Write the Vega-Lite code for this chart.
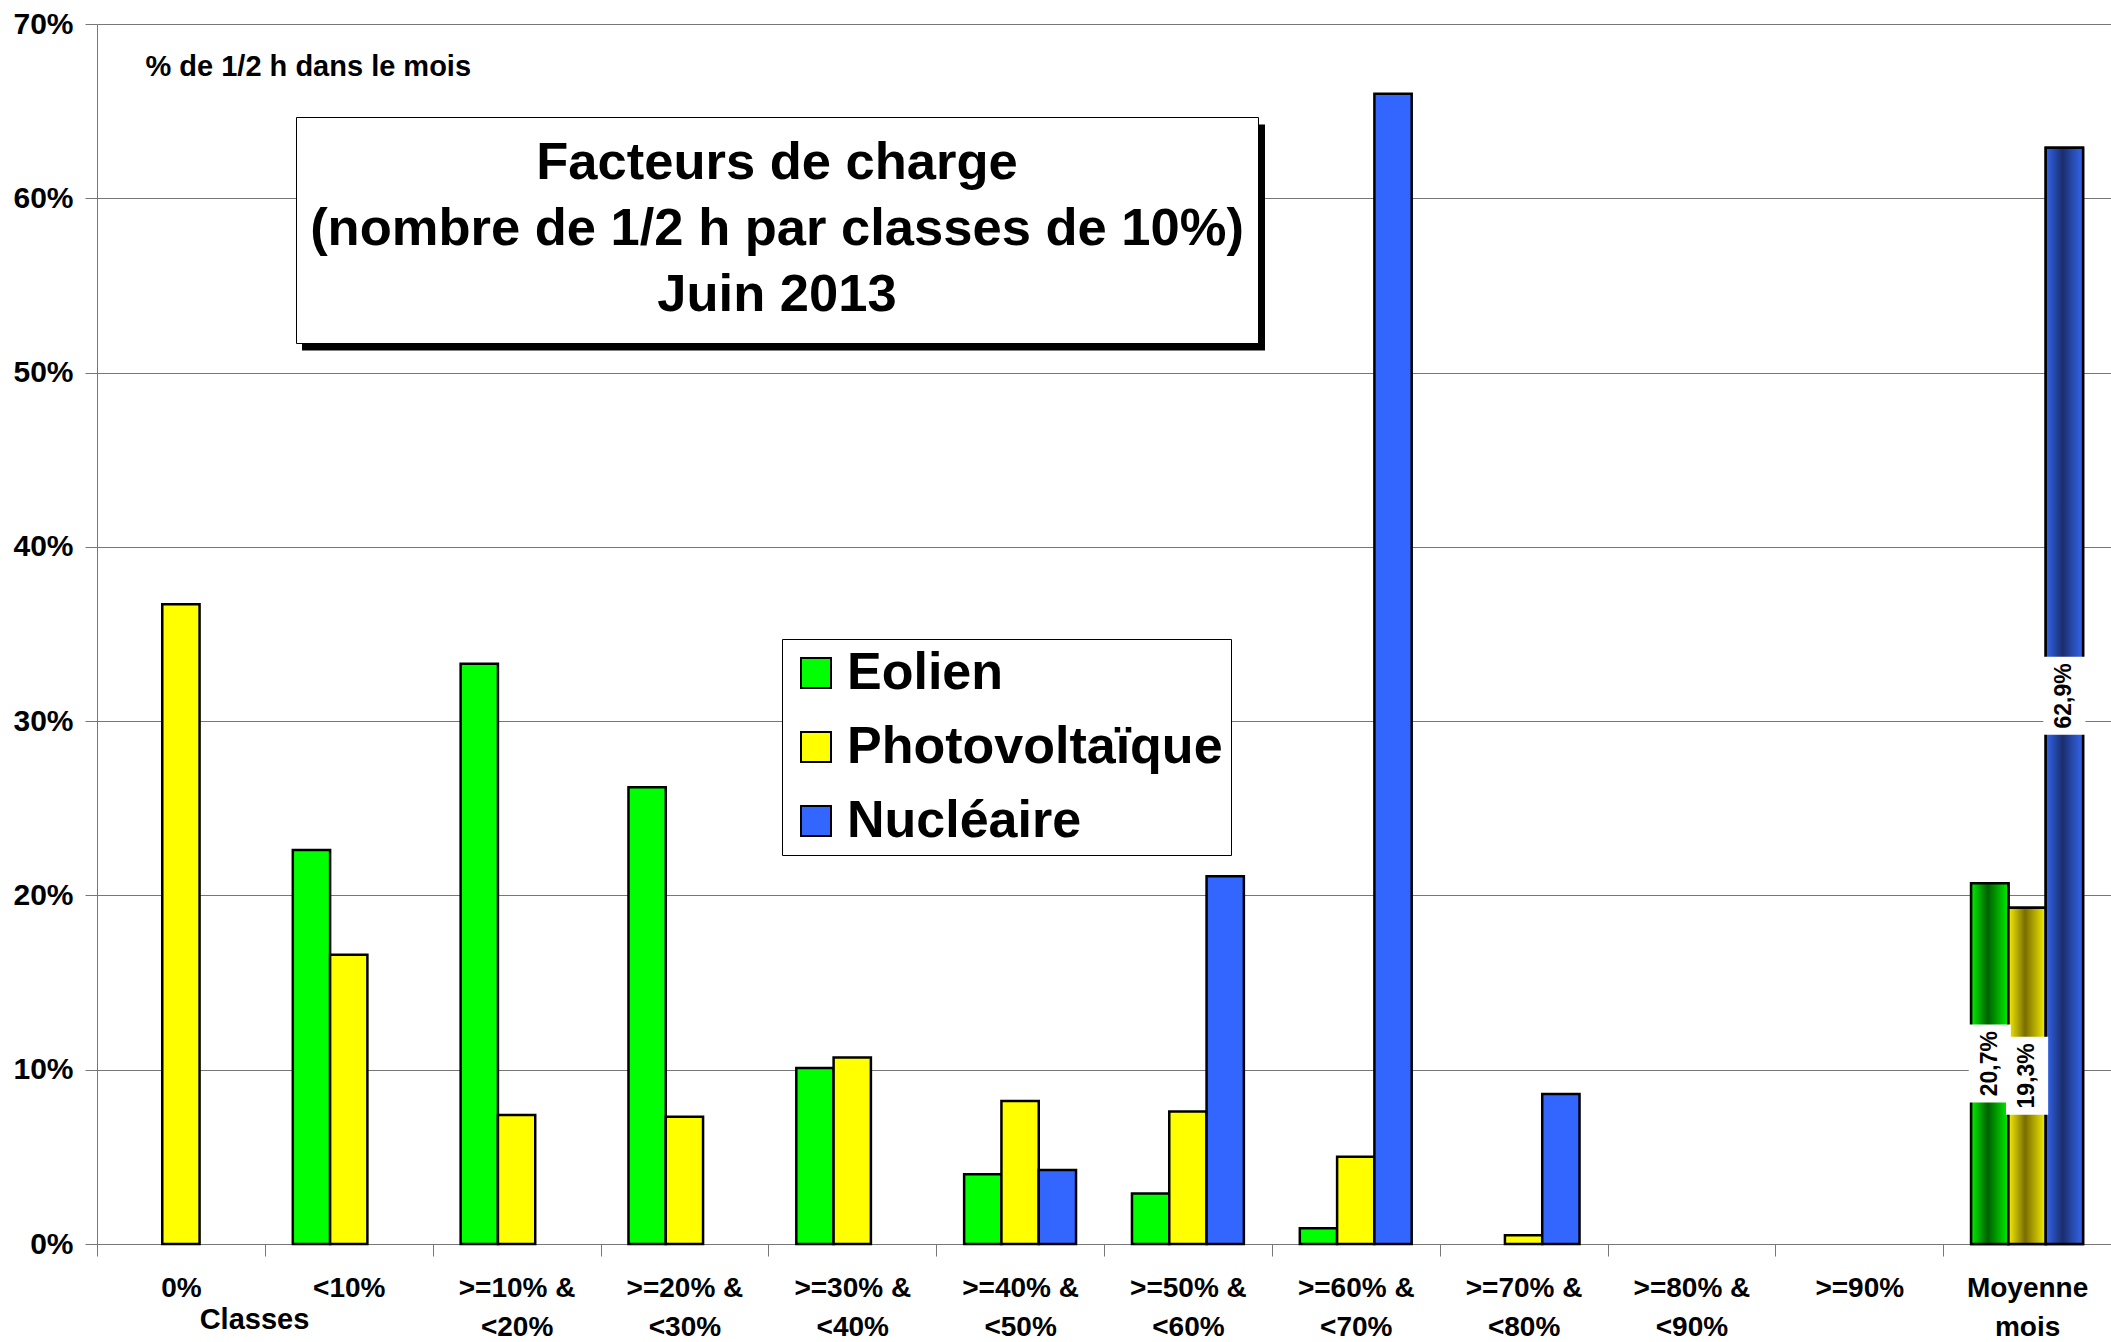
{
  "$schema": "https://vega.github.io/schema/vega-lite/v6.json",
  "width": 2014,
  "height": 1220,
  "autosize": {"type": "none"},
  "padding": {"left": 97, "top": 24, "right": 0, "bottom": 98},
  "background": "white",
  "config": {"font": "Liberation Sans", "view": {"stroke": null}},
  "data": {"values": [
    {"classe": "0%", "serie": "Photovoltaïque", "value": 36.7},
    {"classe": "<10%", "serie": "Eolien", "value": 22.6},
    {"classe": "<10%", "serie": "Photovoltaïque", "value": 16.6},
    {"classe": ">=10% & <20%", "serie": "Eolien", "value": 33.3},
    {"classe": ">=10% & <20%", "serie": "Photovoltaïque", "value": 7.4},
    {"classe": ">=20% & <30%", "serie": "Eolien", "value": 26.2},
    {"classe": ">=20% & <30%", "serie": "Photovoltaïque", "value": 7.3},
    {"classe": ">=30% & <40%", "serie": "Eolien", "value": 10.1},
    {"classe": ">=30% & <40%", "serie": "Photovoltaïque", "value": 10.7},
    {"classe": ">=40% & <50%", "serie": "Eolien", "value": 4.0},
    {"classe": ">=40% & <50%", "serie": "Photovoltaïque", "value": 8.2},
    {"classe": ">=40% & <50%", "serie": "Nucléaire", "value": 4.25},
    {"classe": ">=50% & <60%", "serie": "Eolien", "value": 2.9},
    {"classe": ">=50% & <60%", "serie": "Photovoltaïque", "value": 7.6},
    {"classe": ">=50% & <60%", "serie": "Nucléaire", "value": 21.1},
    {"classe": ">=60% & <70%", "serie": "Eolien", "value": 0.9},
    {"classe": ">=60% & <70%", "serie": "Photovoltaïque", "value": 5.0},
    {"classe": ">=60% & <70%", "serie": "Nucléaire", "value": 66.0},
    {"classe": ">=70% & <80%", "serie": "Photovoltaïque", "value": 0.5},
    {"classe": ">=70% & <80%", "serie": "Nucléaire", "value": 8.6},
    {"classe": "Moyenne mois", "serie": "Eolien", "value": 20.7},
    {"classe": "Moyenne mois", "serie": "Photovoltaïque", "value": 19.3},
    {"classe": "Moyenne mois", "serie": "Nucléaire", "value": 62.9}
  ]},
  "encoding": {
    "x": {
      "field": "classe", "type": "nominal",
      "scale": {"domain": ["0%", "<10%", ">=10% & <20%", ">=20% & <30%", ">=30% & <40%", ">=40% & <50%", ">=50% & <60%", ">=60% & <70%", ">=70% & <80%", ">=80% & <90%", ">=90%", "Moyenne mois"], "paddingInner": 0, "paddingOuter": 0},
      "axis": {
        "tickBand": "extent",
        "labelAngle": 0,
        "labelExpr": "indexof(datum.label, ' & ') > 0 ? [split(datum.label, ' & ')[0] + ' &', split(datum.label, ' & ')[1]] : (datum.label == 'Moyenne mois' ? ['Moyenne', 'mois'] : datum.label)",
        "labelFontSize": 28,
        "labelFontWeight": "bold",
        "labelColor": "black",
        "labelLineHeight": 39,
        "labelPadding": 32,
        "labelBaseline": "middle",
        "labelLimit": 0,
        "tickSize": 12,
        "tickColor": "#777",
        "domainColor": "#777",
        "title": "Classes",
        "titleFontSize": 29,
        "titleFontWeight": "bold",
        "titleColor": "black",
        "titleX": 157,
        "titleY": 75,
        "titleAlign": "center",
        "titleBaseline": "middle"
      }
    },
    "xOffset": {
      "field": "serie", "type": "nominal",
      "scale": {"domain": ["Eolien", "Photovoltaïque", "Nucléaire"], "paddingInner": 0, "paddingOuter": 0.75}
    },
    "y": {
      "field": "value", "type": "quantitative",
      "scale": {"domain": [0, 70], "nice": false},
      "axis": {
        "values": [0, 10, 20, 30, 40, 50, 60, 70],
        "labelExpr": "datum.value + '%'",
        "labelFontSize": 30,
        "labelFontWeight": "bold",
        "labelColor": "black",
        "labelPadding": 12,
        "tickSize": 12,
        "tickColor": "#777",
        "domainColor": "#777",
        "grid": true,
        "gridColor": "#777",
        "gridWidth": 1,
        "title": "% de 1/2 h dans le mois",
        "titleAngle": 0,
        "titleX": 48,
        "titleY": 42,
        "titleAlign": "left",
        "titleBaseline": "middle",
        "titleFontSize": 29,
        "titleFontWeight": "bold",
        "titleColor": "black"
      }
    }
  },
  "layer": [
    {
      "mark": {"type": "bar", "stroke": "black", "strokeWidth": 2.5},
      "encoding": {
        "color": {
          "field": "serie", "type": "nominal",
          "scale": {"domain": ["Eolien", "Photovoltaïque", "Nucléaire"], "range": ["#00ff00", "#ffff00", "#3366ff"]},
          "legend": {
            "orient": "none",
            "legendX": 685,
            "legendY": 615,
            "title": null,
            "strokeColor": "black",
            "fillColor": "white",
            "padding": 8,
            "rowPadding": 22,
            "labelFontSize": 52,
            "labelFontWeight": "bold",
            "labelColor": "black",
            "labelOffset": 5,
            "labelLimit": 2000,
            "symbolType": "square",
            "symbolSize": 900,
            "symbolStrokeColor": "black",
            "symbolStrokeWidth": 2,
            "symbolOpacity": 1
          }
        },
        "strokeDash": {
          "datum": "ombre",
          "scale": {"range": [[1, 0]]},
          "legend": {
            "orient": "none",
            "legendX": 205,
            "legendY": -268,
            "title": null,
            "padding": 0,
            "symbolType": "M-1,-0.2347H1V0.2347H-1Z",
            "symbolSize": 927369,
            "symbolFillColor": "black",
            "symbolStrokeColor": "black",
            "symbolStrokeWidth": 0,
            "symbolOpacity": 1,
            "symbolOffset": 0,
            "labelFontSize": 1,
            "labelOpacity": 0,
            "labelExpr": "''"
          }
        },
        "opacity": {
          "datum": "titre",
          "type": "ordinal",
          "scale": {"range": [1]},
          "legend": {
            "orient": "none",
            "legendX": 199,
            "legendY": 93,
            "title": ["Facteurs de charge", "(nombre de 1/2 h par classes de 10%)", "Juin 2013"],
            "titleFontSize": 52.5,
            "titleFontWeight": "bold",
            "titleColor": "black",
            "titleLineHeight": 66,
            "titleBaseline": "line-top",
            "titleAlign": "center",
            "titleAnchor": "middle",
            "titlePadding": 13,
            "titleLimit": 3000,
            "strokeColor": "black",
            "fillColor": "white",
            "padding": 14,
            "symbolSize": 0,
            "symbolOpacity": 0,
            "symbolStrokeWidth": 0,
            "labelFontSize": 1,
            "labelOpacity": 0,
            "labelExpr": "''"
          }
        }
      }
    },
    {
      "transform": [{"filter": "datum.classe == 'Moyenne mois' && datum.serie == 'Eolien'"}],
      "mark": {"type": "bar", "stroke": "black", "strokeWidth": 2.5,
        "fill": {"gradient": "linear", "x1": 0, "y1": 0, "x2": 1, "y2": 0,
          "stops": [{"offset": 0, "color": "#00f000"}, {"offset": 0.45, "color": "#006000"}, {"offset": 1, "color": "#00f000"}]}}
    },
    {
      "transform": [{"filter": "datum.classe == 'Moyenne mois' && datum.serie == 'Photovoltaïque'"}],
      "mark": {"type": "bar", "stroke": "black", "strokeWidth": 2.5,
        "fill": {"gradient": "linear", "x1": 0, "y1": 0, "x2": 1, "y2": 0,
          "stops": [{"offset": 0, "color": "#f5f000"}, {"offset": 0.45, "color": "#7a6c00"}, {"offset": 1, "color": "#f5f000"}]}}
    },
    {
      "transform": [{"filter": "datum.classe == 'Moyenne mois' && datum.serie == 'Nucléaire'"}],
      "mark": {"type": "bar", "stroke": "black", "strokeWidth": 2.5,
        "fill": {"gradient": "linear", "x1": 0, "y1": 0, "x2": 1, "y2": 0,
          "stops": [{"offset": 0, "color": "#3366f0"}, {"offset": 0.45, "color": "#1a2e6e"}, {"offset": 1, "color": "#3366f0"}]}}
    },
    {
      "transform": [
        {"filter": "datum.classe == 'Moyenne mois'"},
        {"calculate": "datum.value / 2", "as": "mid"}
      ],
      "mark": {"type": "point", "shape": "M-0.54,-1H0.54V1H-0.54Z", "filled": true, "fill": "white", "opacity": 1, "strokeWidth": 0, "size": 6084},
      "encoding": {"y": {"field": "mid", "type": "quantitative"}}
    },
    {
      "transform": [
        {"filter": "datum.classe == 'Moyenne mois'"},
        {"calculate": "datum.value / 2", "as": "mid"},
        {"calculate": "replace(format(datum.value, '.1f'), '.', ',') + '%'", "as": "lab"}
      ],
      "mark": {"type": "text", "angle": 270, "fontSize": 23, "fontWeight": "bold", "color": "black", "align": "center", "baseline": "middle"},
      "encoding": {
        "y": {"field": "mid", "type": "quantitative"},
        "text": {"field": "lab"}
      }
    }
  ]
}
